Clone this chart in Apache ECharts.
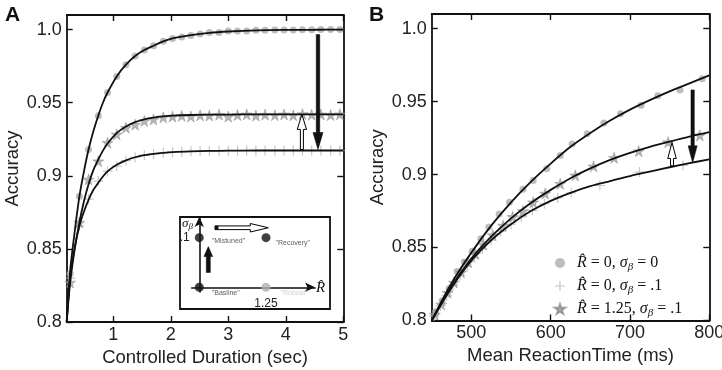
<!DOCTYPE html>
<html><head><meta charset="utf-8">
<script src="https://cdn.jsdelivr.net/npm/echarts@6/dist/echarts.min.js"></script>
<style>html,body{margin:0;padding:0;background:#fff}#c{width:722px;height:370px}</style>
</head><body><div id="c"></div>
<script>
// ---------------- DATA ----------------
// Panel A (Controlled Duration, sec)
const xA = [0.25,0.41,0.57,0.74,0.90,1.06,1.22,1.38,1.54,1.70,1.87,2.03,2.19,2.35,2.51,2.67,2.84,3.00,3.16,3.32,3.48,3.64,3.81,3.97,4.13,4.29,4.45,4.61,4.78,4.94];
const circA = [0.833,0.886,0.918,0.941,0.957,0.968,0.976,0.982,0.986,0.989,0.992,0.994,0.995,0.996,0.997,0.998,0.998,0.999,0.999,0.999,0.9995,0.9996,0.9997,0.9998,0.9998,0.9999,0.9999,1.0,1.0,1.0];
const plusA = [0.830,0.8657,0.884,0.8964,0.9032,0.9066,0.9104,0.9127,0.914,0.915,0.9157,0.9162,0.9165,0.9168,0.917,0.9171,0.9171,0.9172,0.9172,0.9173,0.9173,0.9173,0.9173,0.9173,0.9173,0.9173,0.9173,0.9173,0.9173,0.9173];
const starA = [0.827,0.868,0.8975,0.910,0.9226,0.9283,0.9329,0.935,0.9375,0.9386,0.940,0.9405,0.941,0.9406,0.9414,0.9412,0.9418,0.9405,0.9416,0.942,0.9412,0.9418,0.9415,0.942,0.9414,0.9422,0.9418,0.942,0.9416,0.9421];
const lineAx = [0.19,0.25,0.33,0.41,0.49,0.57,0.65,0.74,0.82,0.90,1.06,1.22,1.38,1.54,1.70,1.87,2.03,2.35,2.67,3.0,3.5,4.0,4.5,5.0];
const lineAtop = [0.800,0.835,0.862,0.8857,0.903,0.918,0.930,0.9413,0.950,0.957,0.968,0.976,0.982,0.986,0.989,0.992,0.994,0.9962,0.9978,0.9987,0.9995,0.9998,0.9999,1.0];
const lineAmid = [0.800,0.827,0.850,0.868,0.8826,0.8943,0.9036,0.9112,0.9172,0.9221,0.9292,0.9337,0.9367,0.9386,0.9398,0.9406,0.9411,0.9416,0.9418,0.9419,0.942,0.942,0.942,0.942];
const lineAbot = [0.800,0.830,0.851,0.8657,0.8756,0.8836,0.8901,0.8953,0.8995,0.903,0.9075,0.9106,0.9127,0.9141,0.915,0.9157,0.9162,0.9167,0.917,0.9172,0.9173,0.9173,0.9173,0.9173];
// Panel B (Mean Reaction Time, ms)
const lineBx = [450,475,500,525,550,575,600,625,650,675,700,725,750,775,800];
const lineBtop = [0.800,0.8255,0.8465,0.865,0.881,0.895,0.9075,0.919,0.9285,0.937,0.9445,0.951,0.957,0.9625,0.968];
const lineBmid = [0.800,0.8235,0.8425,0.8575,0.870,0.8805,0.8895,0.8975,0.9042,0.910,0.9148,0.919,0.9226,0.926,0.929];
const lineBbot = [0.800,0.8225,0.841,0.855,0.866,0.875,0.882,0.8875,0.892,0.8955,0.899,0.902,0.905,0.9078,0.9104];
const circBx = [455,463,472,482,491,501,512,522,535,548,565,578,595,612,627,646,667,688,714,735,763,791];
const circB = [0.806,0.8135,0.822,0.8335,0.840,0.8475,0.856,0.864,0.873,0.881,0.890,0.896,0.904,0.913,0.921,0.928,0.9353,0.9417,0.9474,0.954,0.958,0.9657];
const starBx = [454,462,470,478,487,496,505,515,527,540,552,565,578,593,612,631,654,680,711,748,788];
const starB = [0.804,0.811,0.819,0.826,0.833,0.840,0.8455,0.852,0.8585,0.865,0.871,0.875,0.881,0.887,0.8937,0.8994,0.9056,0.9115,0.916,0.9222,0.9268];
const plusBx = [453,461,469,477,486,495,504,514,525,537,550,563,577,592,609,626,662,712,767];
const plusB = [0.803,0.810,0.817,0.824,0.831,0.837,0.843,0.849,0.855,0.861,0.866,0.871,0.8755,0.880,0.884,0.8875,0.8925,0.9017,0.9063];
// Tick labels
const yTicks = [0.8,0.85,0.9,0.95,1.0];
const xTicksA = [1,2,3,4,5];
const xTicksB = [500,600,700,800];
// Legend names
const legendNames = ['R\u0302 = 0, \u03c3\u03b2 = 0','R\u0302 = 0, \u03c3\u03b2 = .1','R\u0302 = 1.25, \u03c3\u03b2 = .1'];
const legendRich = ['{i|R\u0302} = 0, {i|\u03c3}{s|\u03b2} = 0','{i|R\u0302} = 0, {i|\u03c3}{s|\u03b2} = .1','{i|R\u0302} = 1.25, {i|\u03c3}{s|\u03b2} = .1'];
// Arrows (data coordinates: [tail, tip])
const arrowA_down = [[4.56,0.9966],[4.56,0.918]];
const arrowA_up = [[4.28,0.918],[4.28,0.942]];
const arrowB_down = [[779,0.958],[779,0.908]];
const arrowB_up = [[753,0.906],[753,0.922]];
// Inset schematic (R-hat vs sigma-beta)
const insetR = [0,0,1.25,1.25];
const insetSigma = [0,0.1,0.1,0];
const insetLabels = ['"Basline"','"Mistuned"','"Recovery"','"Robust"'];
const insetArrowUp = [[0.169,0.030],[0.169,0.082]];
const insetArrowRight = [[0.294,0.120],[1.293,0.120]];

// ---------------- CHART ----------------
const FONT = "'Liberation Sans', Arial, sans-serif";
const SERIF = "'Liberation Serif', 'DejaVu Serif', serif";
const zip = (xs, ys) => xs.map((x, i) => [x, ys[i]]);
const starPath = 'path://M50,0 L61.2,34.5 L97.6,34.5 L68.2,55.9 L79.4,90.5 L50,69.1 L20.6,90.5 L31.8,55.9 L2.4,34.5 L38.8,34.5 Z';
const plusPath = 'path://M4.4,0 L5.6,0 L5.6,4.4 L10,4.4 L10,5.6 L5.6,5.6 L5.6,10 L4.4,10 L4.4,5.6 L0,5.6 L0,4.4 L4.4,4.4 Z';

const chart = echarts.init(document.getElementById('c'), null, {renderer: 'canvas'});

const axLine = {onZero: false, lineStyle: {color: '#111', width: 1.8}};
function xAxesFor(gi, min, max, ticks, name) {
  const tick = {inside: true, length: 6, customValues: ticks, lineStyle: {color: '#111', width: 1.4}};
  return [
    {type: 'value', gridIndex: gi, min, max, position: 'bottom', name, nameLocation: 'middle', nameGap: 26,
      nameMoveOverlap: false,
      nameTextStyle: {fontFamily: FONT, fontSize: 18.5, color: '#222'},
      axisLine: axLine, axisTick: tick,
      axisLabel: {customValues: ticks, fontFamily: FONT, fontSize: 18, color: '#222', margin: 4},
      splitLine: {show: false}},
    {type: 'value', gridIndex: gi, min, max, position: 'top',
      axisLine: axLine, axisTick: tick, axisLabel: {show: false}, splitLine: {show: false}}
  ];
}
function yAxesFor(gi) {
  const tick = {inside: true, length: 6, customValues: yTicks, lineStyle: {color: '#111', width: 1.4}};
  return [
    {type: 'value', gridIndex: gi, min: 0.8, max: 1.01, position: 'left', name: 'Accuracy',
      nameLocation: 'middle', nameGap: 44, nameRotate: 90, nameMoveOverlap: false,
      nameTextStyle: {fontFamily: FONT, fontSize: 18.5, color: '#222'},
      axisLine: axLine, axisTick: tick,
      axisLabel: {customValues: yTicks, fontFamily: FONT, fontSize: 18, color: '#222', margin: 5,
        formatter: v => (v === 1 ? '1.0' : String(v))},
      splitLine: {show: false}},
    {type: 'value', gridIndex: gi, min: 0.8, max: 1.01, position: 'right',
      axisLine: axLine, axisTick: tick, axisLabel: {show: false}, splitLine: {show: false}}
  ];
}

function scatter(name, data, kind, xi, yi) {
  const st = {
    circ: {symbol: 'circle', symbolSize: 7, itemStyle: {color: '#acacac'}},
    plus: {symbol: plusPath, symbolSize: 10, itemStyle: {color: '#b9b9b9'}},
    star: {symbol: starPath, symbolSize: 11, itemStyle: {color: '#a3a3a3', borderColor: '#8a8a8a', borderWidth: 0.6}}
  }[kind];
  return Object.assign({type: 'scatter', name, data, xAxisIndex: xi, yAxisIndex: yi, z: 2, silent: true}, st);
}
function line(data, xi, yi) {
  return {type: 'line', data, xAxisIndex: xi, yAxisIndex: yi, showSymbol: false, symbol: 'none',
    smooth: 0.3, clip: true, z: 3, silent: true,
    lineStyle: {color: '#111', width: 1.8}, itemStyle: {color: '#111'}};
}

const option = {
  animation: false,
  backgroundColor: '#fff',
  textStyle: {fontFamily: FONT},
  grid: [
    {left: 66.7, top: 15, width: 276.6, height: 307, outerBoundsMode: 'none'},
    {left: 431.7, top: 14, width: 277.6, height: 306.5, outerBoundsMode: 'none'},
    {left: 191.7, top: 217, width: 123.3, height: 75, outerBoundsMode: 'none'}
  ],
  xAxis: [
    ...xAxesFor(0, 0.19, 5, xTicksA, 'Controlled Duration (sec)'),
    ...xAxesFor(1, 450, 800, xTicksB, 'Mean ReactionTime (ms)'),
    {type: 'value', gridIndex: 2, min: -0.142, max: 2.168,
      axisLine: {onZero: true, symbol: ['none', 'arrow'], symbolSize: [7, 10], lineStyle: {color: '#111', width: 1.6}},
      axisTick: {show: false}, splitLine: {show: false},
      axisLabel: {customValues: [1.25], formatter: () => '1.25', fontFamily: FONT, fontSize: 12, color: '#222', margin: 6}}
  ],
  yAxis: [
    ...yAxesFor(0),
    ...yAxesFor(1),
    {type: 'value', gridIndex: 2, min: -0.0095, max: 0.1417,
      axisLine: {onZero: true, symbol: ['none', 'arrow'], symbolSize: [7, 10], lineStyle: {color: '#111', width: 1.6}},
      axisTick: {show: false}, splitLine: {show: false},
      axisLabel: {customValues: [0.1], formatter: () => '.1', fontFamily: FONT, fontSize: 12, color: '#222', margin: 2, padding: [9, 0, 0, 0]}}
  ],
  legend: {
    orient: 'vertical', left: 549, top: 250, itemWidth: 10, itemHeight: 10, itemGap: 5.5,
    data: legendNames, selectedMode: false,
    formatter: name => legendRich[legendNames.indexOf(name)],
    textStyle: {fontFamily: SERIF, fontSize: 16, color: '#111', lineHeight: 16, padding: [0, 0, 0, 7],
      rich: {
        i: {fontFamily: SERIF, fontStyle: 'italic', fontSize: 16, color: '#111'},
        s: {fontFamily: SERIF, fontStyle: 'italic', fontSize: 11, color: '#111', padding: [8, 0, 0, 0]}
      }}
  },
  series: [
    scatter(legendNames[0], zip(xA, circA), 'circ', 0, 0),
    scatter(legendNames[1], zip(xA, plusA), 'plus', 0, 0),
    scatter(legendNames[2], zip(xA, starA), 'star', 0, 0),
    line(zip(lineAx, lineAtop), 0, 0),
    line(zip(lineAx, lineAmid), 0, 0),
    line(zip(lineAx, lineAbot), 0, 0),
    scatter(legendNames[0], zip(circBx, circB), 'circ', 2, 2),
    scatter(legendNames[1], zip(plusBx, plusB), 'plus', 2, 2),
    scatter(legendNames[2], zip(starBx, starB), 'star', 2, 2),
    line(zip(lineBx, lineBtop), 2, 2),
    line(zip(lineBx, lineBmid), 2, 2),
    line(zip(lineBx, lineBbot), 2, 2),
    {type: 'scatter', xAxisIndex: 4, yAxisIndex: 4, symbolSize: 9, z: 5, silent: true,
      data: insetR.map((r, i) => ({
        value: [r, insetSigma[i]],
        itemStyle: {color: i === 3 ? '#b0b0b0' : '#111'},
        label: {show: true, position: 'right', formatter: insetLabels[i], fontFamily: FONT, fontSize: 7,
          color: i === 3 ? '#c4c4c4' : '#333',
          offset: [[3, 6], [3, 3], [0, 5], [5, 6]][i]}
      }))}
  ]
};
chart.setOption(option);

// ---------- annotations (arrows positioned through the axes) ----------
function arrow(p0, p1, sw, hw, hl, fill, lw) {
  const dx = p1[0] - p0[0], dy = p1[1] - p0[1];
  const L = Math.hypot(dx, dy), ux = dx / L, uy = dy / L, nx = -uy, ny = ux;
  const bx = p1[0] - ux * hl, by = p1[1] - uy * hl;
  const pts = [
    [p0[0] + nx * sw / 2, p0[1] + ny * sw / 2], [bx + nx * sw / 2, by + ny * sw / 2],
    [bx + nx * hw / 2, by + ny * hw / 2], [p1[0], p1[1]],
    [bx - nx * hw / 2, by - ny * hw / 2], [bx - nx * sw / 2, by - ny * sw / 2],
    [p0[0] - nx * sw / 2, p0[1] - ny * sw / 2]];
  return {type: 'polygon', shape: {points: pts}, style: {fill, stroke: '#000', lineWidth: lw}, z: 100};
}
const toA = p => chart.convertToPixel({xAxisIndex: 0, yAxisIndex: 0}, p);
const toB = p => chart.convertToPixel({xAxisIndex: 2, yAxisIndex: 2}, p);
const toI = p => chart.convertToPixel({xAxisIndex: 4, yAxisIndex: 4}, p);
const iTail = toI(insetArrowRight[0]);

chart.setOption({
  graphic: [
    {type: 'text', left: 5, top: 5, z: 100, style: {text: 'A', font: "bold 21px " + FONT, fill: '#111'}},
    {type: 'text', left: 369, top: 5, z: 100, style: {text: 'B', font: "bold 21px " + FONT, fill: '#111'}},
    {type: 'rect', shape: {x: 180, y: 217, width: 150, height: 92}, style: {fill: '#fff', stroke: '#111', lineWidth: 1.8}, z: 0, zlevel: 0},
    {type: 'text', x: 182, y: 216, z: 100, style: {text: '{i|\u03c3}{s|\u03b2}', rich: {
      i: {fontFamily: SERIF, fontStyle: 'italic', fontSize: 13, fill: '#111'},
      s: {fontFamily: SERIF, fontStyle: 'italic', fontSize: 9, fill: '#111', padding: [6, 0, 0, 0]}}}},
    {type: 'text', x: 316, y: 281, z: 100, style: {text: 'R\u0302', font: "italic 15px " + SERIF, fill: '#111'}},
    arrow(toA(arrowA_down[0]), toA(arrowA_down[1]), 3.5, 10, 17, '#111', 0.5),
    arrow(toA(arrowA_up[0]), toA(arrowA_up[1]), 3, 9.3, 15, '#fff', 1),
    arrow(toB(arrowB_down[0]), toB(arrowB_down[1]), 3.3, 9, 17, '#111', 0.5),
    arrow(toB(arrowB_up[0]), toB(arrowB_up[1]), 3, 8.5, 16, '#fff', 1),
    arrow(toI(insetArrowUp[0]), toI(insetArrowUp[1]), 4, 8.7, 10, '#111', 0.5),
    arrow(toI(insetArrowRight[0]), toI(insetArrowRight[1]), 3.7, 8.5, 18, '#fff', 1),
    {type: 'rect', shape: {x: iTail[0], y: iTail[1] - 2, width: 3.5, height: 4}, style: {fill: '#111'}, z: 101}
  ]
});
</script></body></html>
